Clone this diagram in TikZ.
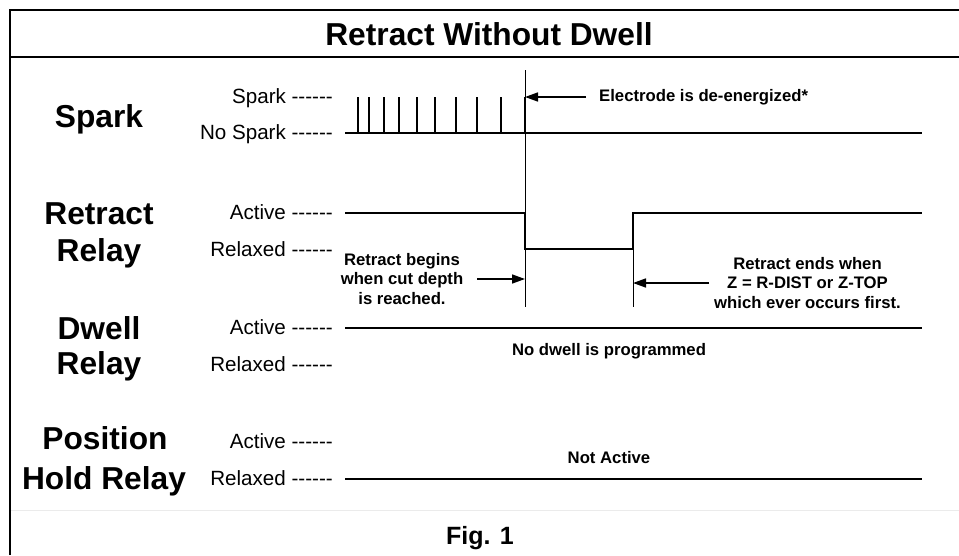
\documentclass[tikz,border=0pt]{standalone}
\usepackage{fontspec}
\setmainfont{Liberation Sans}
\usetikzlibrary{arrows.meta}
\newcommand{\ldrs}{-{}-{}-{}-{}-{}-}

\begin{document}
\begin{tikzpicture}[x=1pt,y=-1pt,line cap=butt,
    big/.style={font=\fontsize{31.7}{37}\selectfont\bfseries,inner sep=0pt,anchor=base},
    lvl/.style={font=\fontsize{20.6}{24}\selectfont,inner sep=0pt,anchor=base east},
    note/.style={font=\fontsize{16.7}{19.5}\selectfont\bfseries,inner sep=0pt,align=center},
    sig/.style={line width=2pt},
    ptr/.style={line width=1.6pt,-{Triangle[length=13pt,width=9pt]}}]
  \useasboundingbox (0,0) rectangle (959,555);
  \draw[line width=1.4pt] (10,555) -- (10,10) -- (959,10);
  \draw[line width=1.4pt] (10,57) -- (959,57);
  \draw[black!8,line width=1pt] (11,510) -- (959,510);
  \node[big] (title) at (489,45) {Retract Without Dwell};
  \node[big,font=\fontsize{25}{30}\selectfont\bfseries] (fig) at (480,544) {Fig. 1};
  \node[big] (lblSpark) at (99,127) {Spark};
  \node[big] (lblRetract) at (99,224) {Retract};
  \node[big] (lblRetRelay) at (99,261) {Relay};
  \node[big] (lblDwell) at (99,339) {Dwell};
  \node[big] (lblDwRelay) at (99,374) {Relay};
  \node[big] (lblPosition) at (105,449) {Position};
  \node[big] (lblHold) at (104,489) {Hold Relay};
  \foreach \yy/\txt/\nm in {97/Spark/lvSpark,133/No Spark/lvNoSpark,213/Active/lvRetOn,
      250/Relaxed/lvRetOff,328/Active/lvDwOn,365/Relaxed/lvDwOff,442/Active/lvPosOn,479/Relaxed/lvPosOff}
    \node[lvl] (\nm) at (333,\yy+6) {\txt\ \ldrs};
  \draw[sig] (345,133) -- (922,133);
  \foreach \px in {358,369,384,399,417,435,456,477,501,525}
    \draw[line width=2.4pt] (\px,133) -- (\px,97);
  \draw[sig] (345,213) -- (525,213) -- (525,249) -- (633,249) -- (633,213) -- (922,213);
  \draw[sig] (345,328) -- (922,328);
  \draw[sig] (345,479) -- (922,479);
  \coordinate (cutOn) at (525,70); \coordinate (cutOnEnd) at (525,307);
  \coordinate (cutOff) at (633,213); \coordinate (cutOffEnd) at (633,307);
  \draw[line width=1pt] (cutOn) -- (cutOnEnd);
  \draw[line width=1pt] (cutOff) -- (cutOffEnd);
  \node[note,anchor=west] (elec) at (599,97) {Electrode is de-energized*};
  \draw[ptr] ([xshift=-13pt]elec.west) -- (elec.west -| cutOn);
  \node[note] (begins) at (402,279) {Retract begins\\when cut depth\\is reached.};
  \draw[ptr] ([xshift=14pt]begins.east) -- (begins.east -| cutOn);
  \node[note] (ends) at (807.5,283) {Retract ends when\\Z = R-DIST or Z-TOP\\which ever occurs first.};
  \draw[ptr] ([xshift=-5pt]ends.west) -- (ends.west -| cutOff);
  \node[note,anchor=base] (nodwell) at (609,355) {No dwell is programmed};
  \node[note,anchor=base] (notact) at (609,463) {Not Active};
\end{tikzpicture}
\end{document}
